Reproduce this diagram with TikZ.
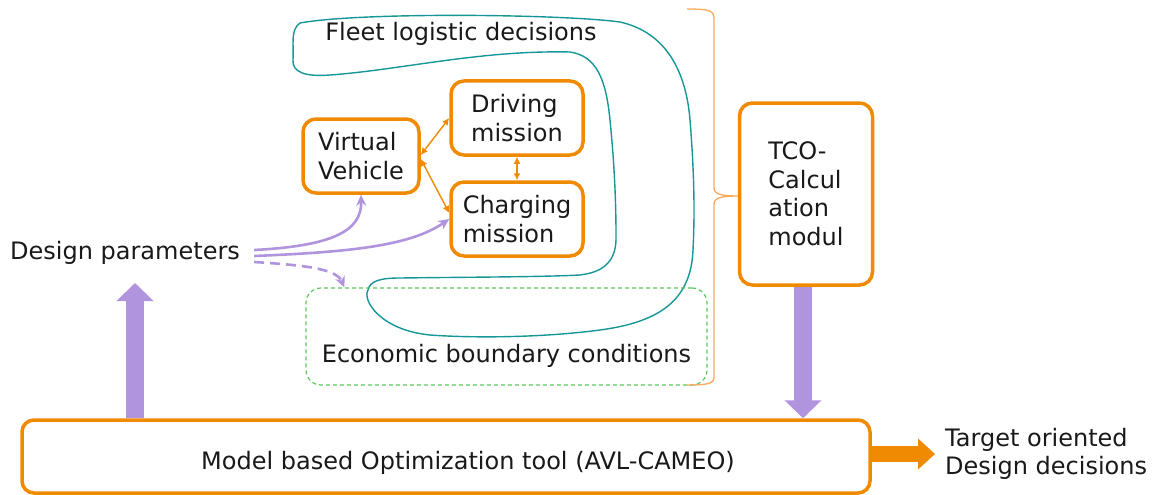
\documentclass[tikz,border=0pt]{standalone}
\usepackage{fontspec}
\setmainfont{DejaVu Sans}
\usetikzlibrary{arrows.meta}
\definecolor{boxorange}{RGB}{240,138,0}
\definecolor{braceorange}{RGB}{246,170,90}
\definecolor{lavender}{RGB}{176,148,222}
\definecolor{fleetteal}{RGB}{22,150,150}
\definecolor{econgreen}{RGB}{90,200,90}
\definecolor{ink}{RGB}{25,25,25}
\tikzset{
  txt/.style={font=\fontsize{24}{28.5}\selectfont, text=ink, inner sep=0pt, align=left},
  obox/.style={txt, draw=boxorange, line width=3.5pt, rounded corners=13pt, fill=white},
  thinlink/.style={draw=boxorange, line width=1.4pt,
    {Latex[length=7pt,width=7pt]}-{Latex[length=7pt,width=7pt]}},
  paramlink/.style={draw=lavender, line width=2.6pt, -{Stealth[length=11pt,width=10pt]}},
  bigflow/.style={draw=lavender, line width=18pt, -{Triangle[length=18pt,width=36pt]}},
  outflow/.style={draw=boxorange, line width=16pt, -{Triangle[length=17pt,width=30pt]}},
}
\begin{document}
\begin{tikzpicture}[x=1pt,y=-1pt]
\useasboundingbox (0,0) rectangle (1154,495);

% fleet logistic region: a hooked loop reaching down into the economic frame
\draw[fleetteal, line width=1.4pt]
  (300,23) .. controls (360,12) and (560,14) .. (620,22)
  .. controls (665,32) and (686,70) .. (690,120)
  .. controls (694,170) and (695,210) .. (693,250)
  .. controls (691,300) and (660,322) .. (600,330)
  .. controls (540,338) and (470,338) .. (430,335)
  .. controls (380,330) and (362,300) .. (368,290)
  .. controls (370,281) and (380,278) .. (400,278)
  .. controls (480,277) and (540,277) .. (580,275)
  .. controls (605,272) and (617,260) .. (616,235)
  .. controls (616,190) and (613,150) .. (610,120)
  .. controls (606,80) and (597,56) .. (570,52)
  .. controls (480,50) and (400,70) .. (330,75)
  .. controls (305,77) and (292,72) .. (293,60)
  .. controls (294,45) and (290,30) .. cycle;
\node[txt] (fleet) at (461,34) {Fleet logistic decisions};

% economic boundary frame
\node[draw=econgreen, line width=1.2pt, dash pattern=on 4pt off 3pt,
      rounded corners=15pt, minimum width=401pt, minimum height=97pt,
      inner sep=0pt] (econ) at (506.5,336.5) {};
\node[txt] (econlbl) at ([yshift=-19.5pt]econ.center) {Economic boundary conditions};

% simulation boxes
\node[obox, minimum width=116pt, minimum height=74pt] (vv) at (361,156) {Virtual\\Vehicle};
\node[obox, minimum width=132pt, minimum height=74pt] (dm) at (517,118) {Driving\\mission};
\node[obox, minimum width=132pt, minimum height=74pt] (cm) at (517,219) {Charging\\mission};

\draw[thinlink] ([yshift=1pt]vv.east) -- (dm.west);
\draw[thinlink] ([yshift=-3pt]vv.east) -- ([yshift=6pt]cm.west);
\draw[thinlink] (dm.south) -- (cm.north);

% brace collecting the fleet and economic inputs
\draw[braceorange, line width=1.3pt]
  (687,9) .. controls (711,9) and (714,11) .. (714,19) -- (714,187)
  .. controls (714,194) and (719,196) .. (740,196)
  .. controls (719,196) and (714,198) .. (714,205) -- (714,376)
  .. controls (714,383) and (711,385) .. (687,385);

% TCO module
\node[obox, minimum width=133pt, minimum height=182pt] (tco) at (806,194)
  {TCO-\\Calcul\\ation\\modul};

% design parameters
\node[txt, anchor=west] (dp) at (10,253) {Design parameters};
\coordinate (dptip) at (135,283);
\draw[paramlink] ([xshift=14pt,yshift=3pt]dp.east)
  .. controls (330,246) and (362,232) .. (vv.south);
\draw[paramlink] ([xshift=14pt,yshift=-3pt]dp.east)
  .. controls (350,252) and (410,246) .. (cm.west);
\draw[paramlink, dashed, dash pattern=on 10pt off 6pt] ([xshift=14pt,yshift=-9pt]dp.east)
  .. controls (300,265) and (336,268) .. ([xshift=39pt]econ.north west);

% optimisation tool
\node[obox, rounded corners=12pt, minimum width=848pt, minimum height=73pt] (opt) at (446,456.5) {};
\node[txt] (optlbl) at ([xshift=22pt,yshift=-6pt]opt.center) {Model based Optimization tool (AVL-CAMEO)};
\node[txt, anchor=west] (target) at (945,454) {Target oriented\\Design decisions};

\draw[bigflow] (opt.north -| dptip) -- (dptip);
\draw[bigflow] (tco.south -| 803,0) -- (opt.north -| 803,0);
\draw[outflow] (opt.east |- target.west) -- ([xshift=-10pt]target.west);
\end{tikzpicture}
\end{document}
